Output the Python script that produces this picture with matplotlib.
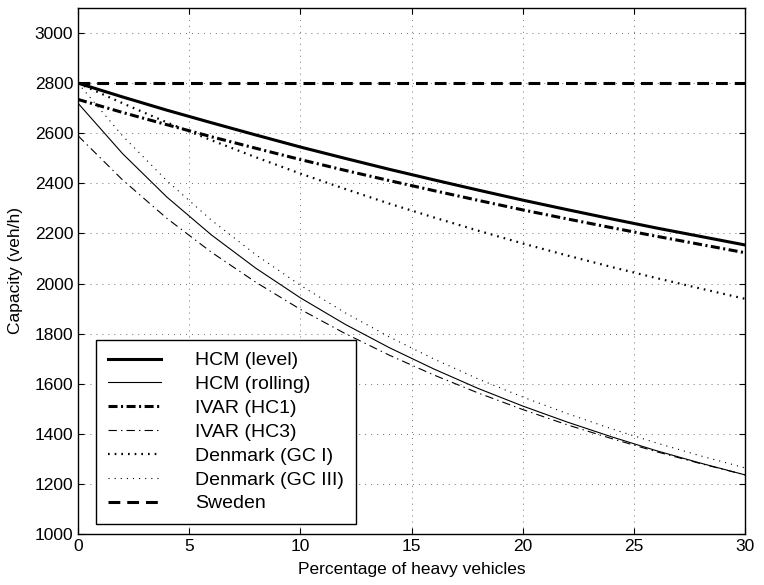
import matplotlib.pyplot as plt
import numpy as np

plt.rcParams['font.family'] = ['Liberation Sans', 'DejaVu Sans']
plt.rcParams['lines.scale_dashes'] = False

# percentage of heavy vehicles
pct = [0, 2, 4, 6, 8, 10, 12, 14, 16, 18, 20, 22, 24, 26, 28, 30]

hcm_level = [2800, 2745, 2692, 2642, 2593, 2545, 2500, 2456, 2414, 2373, 2333, 2295, 2258, 2222, 2188, 2154]
hcm_rolling = [2720, 2519, 2345, 2194, 2061, 1943, 1838, 1744, 1659, 1581, 1511, 1447, 1388, 1333, 1283, 1236]
ivar_hc1 = [2735, 2683, 2634, 2586, 2540, 2495, 2452, 2411, 2371, 2332, 2294, 2258, 2223, 2189, 2156, 2123]
ivar_hc3 = [2590, 2414, 2260, 2125, 2005, 1897, 1801, 1714, 1635, 1563, 1497, 1436, 1381, 1329, 1281, 1236]
denmark_gc1 = [2800, 2720, 2643, 2572, 2504, 2439, 2378, 2319, 2264, 2211, 2160, 2112, 2066, 2022, 1980, 1939]
denmark_gc3 = [2800, 2590, 2410, 2253, 2115, 1993, 1884, 1787, 1699, 1619, 1547, 1481, 1420, 1364, 1312, 1264]
sweden = [2800] * len(pct)

fig = plt.figure(figsize=(7.64, 5.85), dpi=100)
ax = fig.add_axes([78/764, 51/585, 667/764, 526/585])

ax.plot(pct, hcm_level, color='k', lw=2.2, label='HCM (level)')
ax.plot(pct, hcm_rolling, color='k', lw=0.8, label='HCM (rolling)')
ax.plot(pct, ivar_hc1, color='k', lw=2.2, dashes=(6.5, 2.5, 1.5, 2.5), label='IVAR (HC1)')
ax.plot(pct, ivar_hc3, color='k', lw=0.8, dashes=(6, 3, 1, 3), label='IVAR (HC3)')
ax.plot(pct, denmark_gc1, color='k', lw=1.6, dashes=(1.2, 3.6), label='Denmark (GC I)')
ax.plot(pct, denmark_gc3, color='k', lw=0.8, dashes=(0.8, 3.6), label='Denmark (GC III)')
ax.plot(pct, sweden, color='k', lw=2.2, dashes=(8.5, 5), label='Sweden')

ax.set_xlim(0, 30)
ax.set_ylim(1000, 3100)
ax.set_xticks(np.arange(0, 31, 5))
ax.set_yticks(np.arange(1000, 3001, 200))
ax.grid(True, color='0.35', lw=0.6, dashes=(0.7, 3.6))
ax.tick_params(direction='in', length=4, top=True, right=True, labelsize=12.5)
for s in ax.spines.values():
    s.set_linewidth(1.0)

ax.set_xlabel('Percentage of heavy vehicles', fontsize=12.5, labelpad=6)
ax.set_ylabel('Capacity (veh/h)', fontsize=12.5, labelpad=8)

leg = ax.legend(loc='lower left', bbox_to_anchor=(0.027, 0.019), borderaxespad=0,
                fontsize=14, handlelength=2.75, handletextpad=1.75, labelspacing=0.32,
                fancybox=False, edgecolor='k', framealpha=1, borderpad=0.6)
leg.get_frame().set_linewidth(1.0)

fig.savefig('out.png', dpi=100)
